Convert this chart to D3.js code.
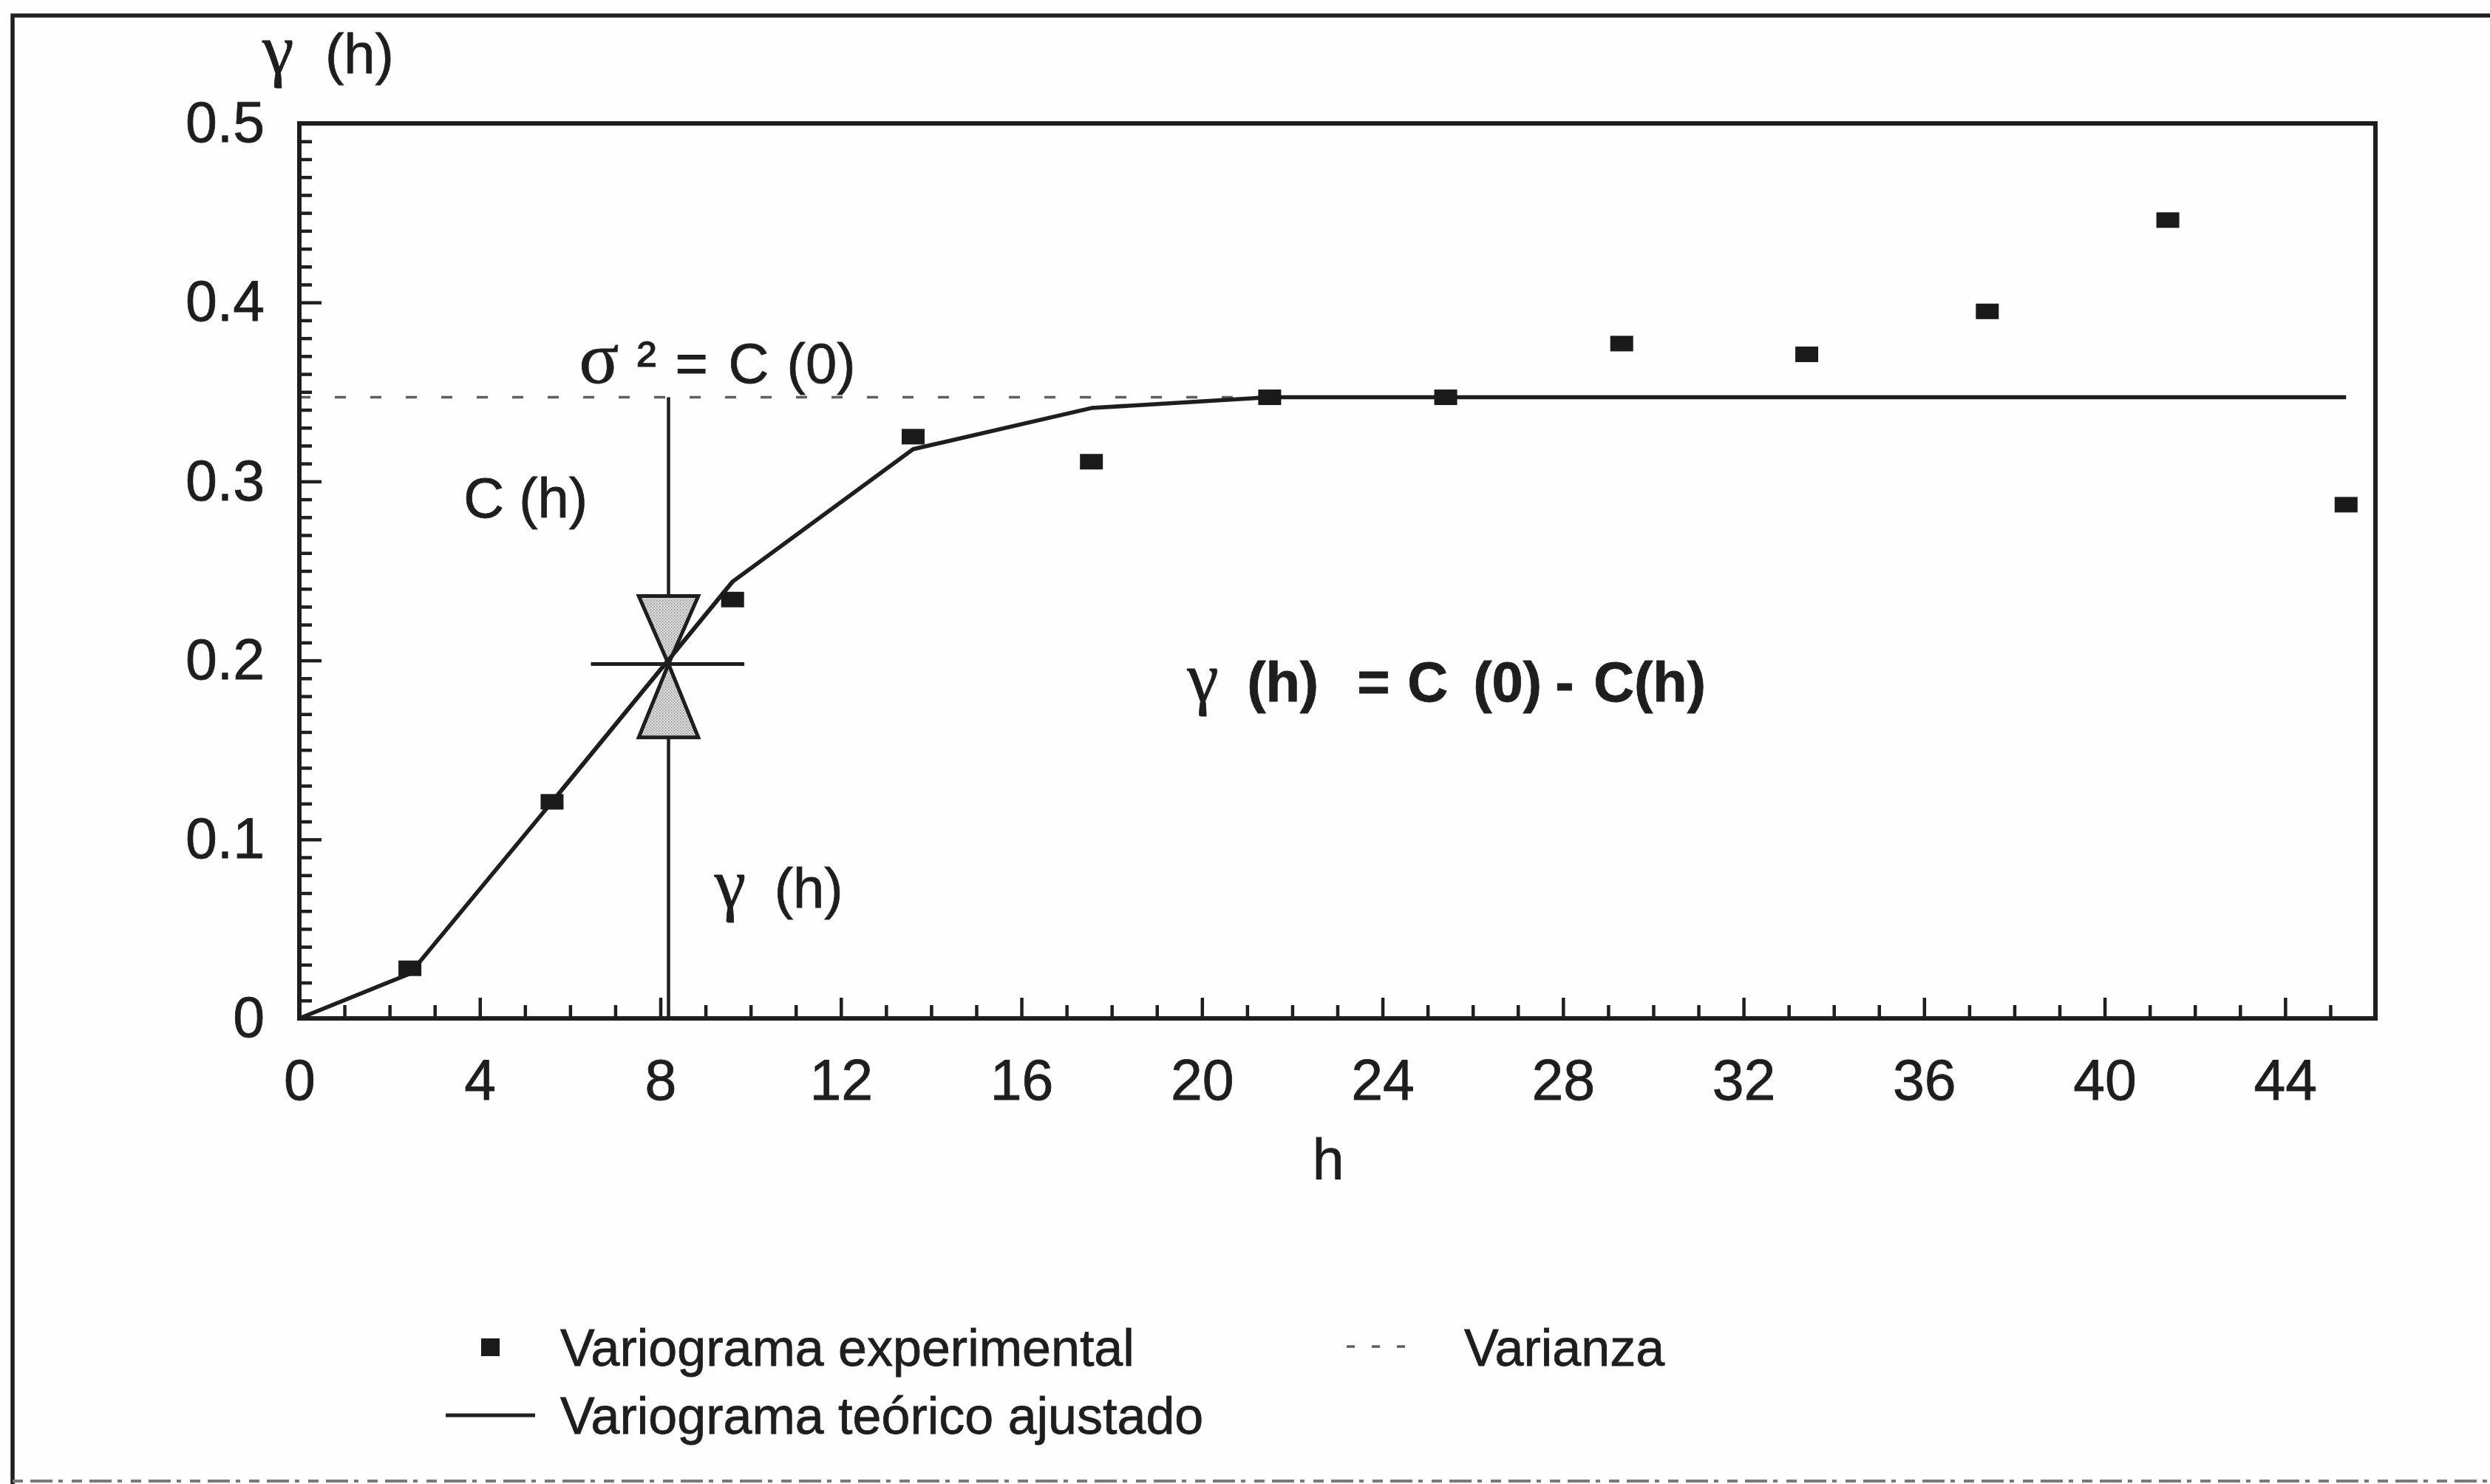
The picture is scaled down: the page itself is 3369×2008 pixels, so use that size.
<!DOCTYPE html>
<html>
<head>
<meta charset="utf-8">
<script src="https://cdn.jsdelivr.net/npm/d3@7"></script>
<style>
  html, body { margin: 0; padding: 0; background: #fefefe; }
  svg { display: block; }
  text { font-family: "Liberation Sans", Arial, sans-serif; fill: #1e1e1e; stroke: #1e1e1e; stroke-width: 0.8px; }
  .greek { font-family: "Liberation Serif", "DejaVu Serif", serif; }
</style>
</head>
<body>
<svg id="chart" width="3369" height="2008"></svg>
<script>
// Lag distances (h) of the experimental variogram
const lags = [2.45, 5.6, 9.6, 13.6, 17.55, 21.5, 25.4, 29.3, 33.4, 37.4, 41.4, 45.35];
// Experimental semivariance at each lag
const gammaExp = [0.028, 0.121, 0.234, 0.325, 0.311, 0.347, 0.347, 0.377, 0.371, 0.395, 0.446, 0.287];
// Fitted theoretical model evaluated at the origin and at each lag
const modelH = [0, 2.45, 5.6, 9.6, 13.6, 17.55, 21.5, 25.4, 29.3, 33.4, 37.4, 41.4, 45.35];
const modelGamma = [0, 0.025, 0.121, 0.244, 0.318, 0.341, 0.347, 0.347, 0.347, 0.347, 0.347, 0.347, 0.347];
// Sample variance (sill), sigma^2 = C(0)
const sill = 0.347;
// Reference lag used to illustrate gamma(h) = C(0) - C(h)
const refLag = 8.18;
const refGamma = 0.198;
const hourglassTop = 0.236, hourglassBottom = 0.157;
// Axis ticks
const xTicksMajor = [0, 4, 8, 12, 16, 20, 24, 28, 32, 36, 40, 44];
const yTicksMajor = [0, 0.1, 0.2, 0.3, 0.4, 0.5];
const yTickLabels = ["0", "0.1", "0.2", "0.3", "0.4", "0.5"];
// Legend entries
const legendLabels = ["Variograma experimental", "Varianza", "Variograma teórico ajustado"];

const svg = d3.select("#chart");
const ink = "#1e1e1e";

const x = d3.scaleLinear().domain([0, 46]).range([405, 3214]);
const y = d3.scaleLinear().domain([0, 0.5]).range([1378, 167]);

// Outer frame (runs past the right and bottom edges)
svg.append("rect")
  .attr("x", 17).attr("y", 21)
  .attr("width", 3400).attr("height", 2050)
  .attr("fill", "none").attr("stroke", ink).attr("stroke-width", 5.5);
svg.append("line")
  .attr("x1", 17).attr("x2", 3369).attr("y1", 2004).attr("y2", 2004)
  .attr("stroke", "#7a7a7a").attr("stroke-width", 4).attr("stroke-dasharray", "14,10,30,8,6,12");

// Minor ticks
const xMinor = d3.range(0, 46, 1).filter(v => v % 4 !== 0);
const yMinor = d3.range(0, 51, 1).map(v => v / 100).filter((v, i) => i % 10 !== 0);

svg.append("g")
  .attr("transform", `translate(0,${y(0)})`)
  .call(d3.axisBottom(x).tickValues(xMinor).tickSize(-18).tickFormat(""))
  .call(g => g.select(".domain").remove())
  .call(g => g.selectAll("line").attr("stroke", ink).attr("stroke-width", 4.5));

svg.append("g")
  .attr("transform", `translate(${x(0)},0)`)
  .call(d3.axisLeft(y).tickValues(yMinor).tickSize(-17).tickFormat(""))
  .call(g => g.select(".domain").remove())
  .call(g => g.selectAll("line").attr("stroke", ink).attr("stroke-width", 4.5));

// Major ticks with labels
svg.append("g")
  .attr("transform", `translate(0,${y(0)})`)
  .call(d3.axisBottom(x).tickValues(xTicksMajor).tickSize(-28).tickPadding(55).tickFormat(d3.format("d")))
  .call(g => g.select(".domain").remove())
  .call(g => g.selectAll("line").attr("stroke", ink).attr("stroke-width", 4.5))
  .call(g => g.selectAll("text").attr("font-size", 77).attr("fill", ink)
    .style("font-family", "'Liberation Sans', Arial, sans-serif"));

svg.append("g")
  .attr("transform", `translate(${x(0)},0)`)
  .call(d3.axisLeft(y).tickValues(yTicksMajor).tickSize(-30).tickPadding(47)
    .tickFormat((d, i) => yTickLabels[i]))
  .call(g => g.select(".domain").remove())
  .call(g => g.selectAll("line").attr("stroke", ink).attr("stroke-width", 4.5))
  .call(g => g.selectAll("text").attr("font-size", 77).attr("fill", ink)
    .style("font-family", "'Liberation Sans', Arial, sans-serif"));

// Axis title
svg.append("text")
  .attr("x", x(22.8)).attr("y", 1596)
  .attr("text-anchor", "middle").attr("font-size", 77)
  .text("h");

// Variance (sill) line
svg.append("line")
  .attr("x1", x(0)).attr("x2", x(modelH[modelH.length - 1]))
  .attr("y1", y(sill)).attr("y2", y(sill))
  .attr("stroke", "#5e5e5e").attr("stroke-width", 3.5).attr("stroke-dasharray", "15,33");

// Fitted model
const line = d3.line().x((d, i) => x(modelH[i])).y(d => y(d));
svg.append("path")
  .datum(modelGamma)
  .attr("d", line)
  .attr("fill", "none").attr("stroke", ink).attr("stroke-width", 5.5)
  .attr("stroke-linejoin", "round");

// Vertical reference at the chosen lag, from 0 up to the sill
svg.append("line")
  .attr("x1", x(refLag)).attr("x2", x(refLag))
  .attr("y1", y(0)).attr("y2", y(sill))
  .attr("stroke", ink).attr("stroke-width", 4.5);

// Hourglass marker: C(h) above, gamma(h) below
const defs = svg.append("defs");
const pat = defs.append("pattern")
  .attr("id", "stipple").attr("patternUnits", "userSpaceOnUse")
  .attr("width", 4).attr("height", 4);
pat.append("rect").attr("width", 4).attr("height", 4).attr("fill", "#dadada");
pat.append("rect").attr("x", 0).attr("y", 0).attr("width", 1.5).attr("height", 1.5).attr("fill", "#8a8a8a");
pat.append("rect").attr("x", 2).attr("y", 2).attr("width", 1.5).attr("height", 1.5).attr("fill", "#a0a0a0");

const halfW = 0.66;
const tri = (base) => [
  [x(refLag - halfW), y(base)],
  [x(refLag + halfW), y(base)],
  [x(refLag), y(refGamma)]
];
svg.selectAll(".hg").data([hourglassTop, hourglassBottom]).join("path")
  .attr("class", "hg")
  .attr("d", d => d3.line()(tri(d)) + "Z")
  .attr("fill", "url(#stipple)").attr("stroke", ink).attr("stroke-width", 5)
  .attr("stroke-linejoin", "miter");

// Redraw the model segment across the hourglass so it stays on top
svg.append("path")
  .datum(modelGamma.slice(2, 4))
  .attr("d", d3.line().x((d, i) => x(modelH[i + 2])).y(d => y(d)))
  .attr("fill", "none").attr("stroke", ink).attr("stroke-width", 5.5);

svg.append("line")
  .attr("x1", x(refLag - 1.72)).attr("x2", x(refLag + 1.68))
  .attr("y1", y(refGamma)).attr("y2", y(refGamma))
  .attr("stroke", ink).attr("stroke-width", 5);

// Experimental points
const mw = 31, mh = 21;
svg.selectAll(".pt").data(gammaExp).join("rect")
  .attr("class", "pt")
  .attr("x", (d, i) => x(lags[i]) - mw / 2)
  .attr("y", d => y(d) - mh / 2)
  .attr("width", mw).attr("height", mh)
  .attr("fill", "#1a1a1a");

// Plot border
svg.append("rect")
  .attr("x", x(0)).attr("y", y(0.5))
  .attr("width", x(46) - x(0)).attr("height", y(0) - y(0.5))
  .attr("fill", "none").attr("stroke", ink).attr("stroke-width", 6);

// Annotation helper: pieces laid out along one baseline
function label(px, py, pieces, size, weight) {
  const t = svg.append("text").attr("x", px).attr("y", py)
    .attr("font-size", size).attr("font-weight", weight || "normal");
  pieces.forEach(p => {
    t.append("tspan")
      .attr("x", px + p.dx)
      .attr("class", p.greek ? "greek" : null)
      .attr("font-weight", p.greek ? "normal" : null)
      .attr("font-size", p.size || null)
      .text(p.t);
  });
  return t;
}

// Y axis title
label(355, 99, [{ t: "γ", dx: 0, greek: true, size: 96 }, { t: "(h)", dx: 85 }], 76);

// sigma^2 = C(0)
label(x(6.2), y(0.355), [
  { t: "σ", dx: 0, greek: true, size: 100 },
  { t: "²", dx: 78, size: 80 },
  { t: "=", dx: 130 },
  { t: "C", dx: 202 },
  { t: "(0)", dx: 281 }
], 76);

// C(h)
label(x(3.64), y(0.28), [{ t: "C", dx: 0 }, { t: "(h)", dx: 75 }], 76);

// gamma(h)
label(x(9.2), y(0.062), [{ t: "γ", dx: 0, greek: true, size: 96 }, { t: "(h)", dx: 81 }], 76);

// gamma(h) = C(0) - C(h)
label(x(19.67), y(0.177), [
  { t: "γ", dx: 0, greek: true, size: 96 },
  { t: "(h)", dx: 81 },
  { t: "=", dx: 230 },
  { t: "C", dx: 298 },
  { t: "(0)", dx: 387 },
  { t: "-", dx: 498 },
  { t: "C(h)", dx: 550 }
], 76, "bold");

// Legend
const lg = svg.append("g");
lg.append("rect").attr("x", 651).attr("y", 1811).attr("width", 25).attr("height", 24).attr("fill", "#1a1a1a");
lg.append("text").attr("x", 758).attr("y", 1848).attr("font-size", 70).text(legendLabels[0]);
lg.append("line").attr("x1", 1822).attr("x2", 1902).attr("y1", 1822).attr("y2", 1822)
  .attr("stroke", "#5e5e5e").attr("stroke-width", 3.5).attr("stroke-dasharray", "11,23");
lg.append("text").attr("x", 1981).attr("y", 1848).attr("font-size", 70).text(legendLabels[1]);
lg.append("line").attr("x1", 603).attr("x2", 724).attr("y1", 1915).attr("y2", 1915)
  .attr("stroke", ink).attr("stroke-width", 5);
lg.append("text").attr("x", 758).attr("y", 1940).attr("font-size", 70).text(legendLabels[2]);
</script>
</body>
</html>
